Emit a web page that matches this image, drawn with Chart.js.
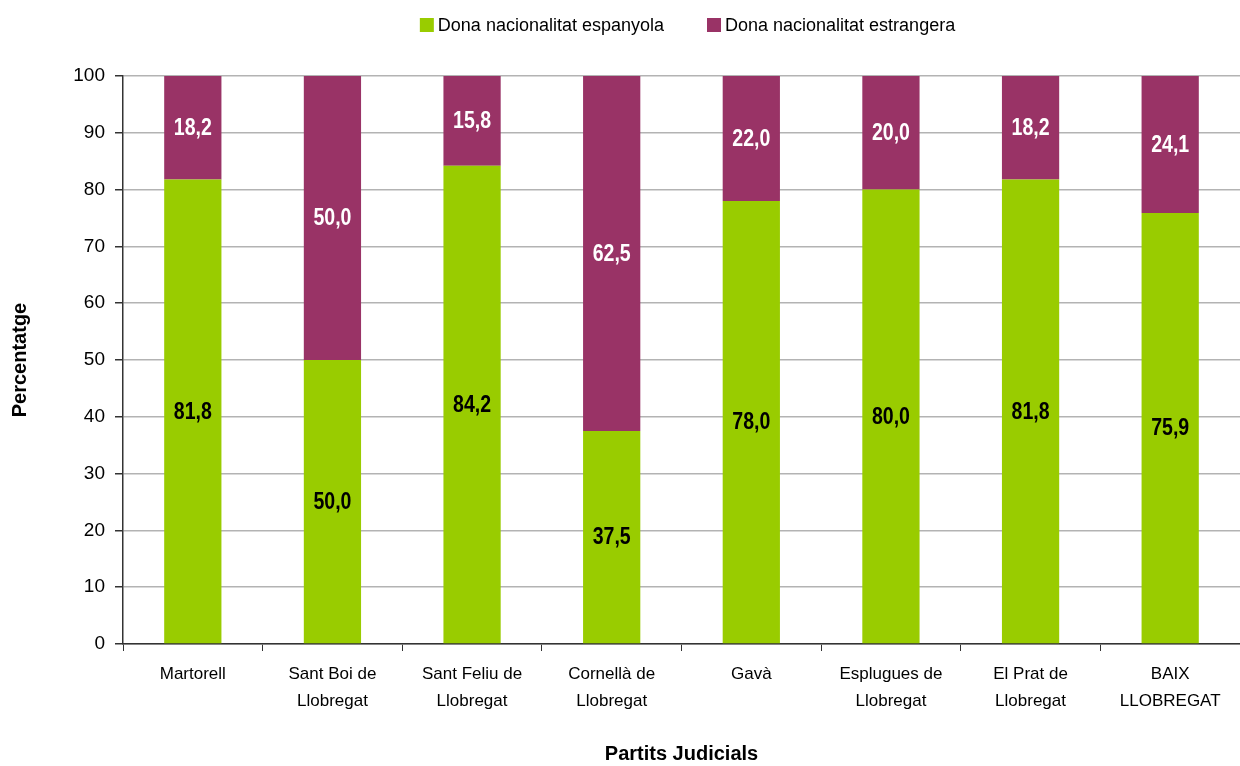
<!DOCTYPE html>
<html>
<head>
<meta charset="utf-8">
<script src="https://cdn.jsdelivr.net/npm/chart.js@4.4.0/dist/chart.umd.min.js"></script>
<style>
  body { margin: 0; background: #fff; }
  #wrap { width: 1240px; height: 766px; }
</style>
</head>
<body>
<div id="wrap"><canvas id="chart" width="1240" height="766"></canvas></div>
<script>
// Data
const categories = [
    'Martorell',
    ['Sant Boi de', 'Llobregat'],
    ['Sant Feliu de', 'Llobregat'],
    ['Cornellà de', 'Llobregat'],
    'Gavà',
    ['Esplugues de', 'Llobregat'],
    ['El Prat de', 'Llobregat'],
    ['BAIX', 'LLOBREGAT']
];
const espanyola = [81.8, 50.0, 84.2, 37.5, 78.0, 80.0, 81.8, 75.9];
const estrangera = [18.2, 50.0, 15.8, 62.5, 22.0, 20.0, 18.2, 24.1];
const seriesNames = ['Dona nacionalitat espanyola', 'Dona nacionalitat estrangera'];
const yTicks = [0, 10, 20, 30, 40, 50, 60, 70, 80, 90, 100];

const FONT = "'Liberation Sans', Arial, sans-serif";

// value labels centred in each segment (narrow bold look of the original)
const segmentLabels = {
    id: 'segmentLabels',
    afterDatasetsDraw(chart) {
        const ctx = chart.ctx;
        ctx.save();
        ctx.font = 'bold 23px ' + FONT;
        ctx.textAlign = 'center';
        ctx.textBaseline = 'middle';
        chart.data.datasets.forEach((ds, i) => {
            const meta = chart.getDatasetMeta(i);
            ctx.fillStyle = i === 0 ? '#000000' : '#ffffff';
            meta.data.forEach((bar, j) => {
                const txt = ds.data[j].toFixed(1).replace('.', ',');
                const mid = (bar.y + bar.base) / 2;
                ctx.save();
                ctx.translate(bar.x, mid + 1);
                ctx.scale(0.85, 1);
                ctx.fillText(txt, 0, 0);
                ctx.restore();
            });
        });
        ctx.restore();
    }
};

// legend drawn above the plot area, centred on it
const topLegend = {
    id: 'topLegend',
    afterDraw(chart) {
        const ctx = chart.ctx;
        const area = chart.chartArea;
        const box = 14, gap = 4, itemGap = 43, y = 25;
        ctx.save();
        ctx.font = '18px ' + FONT;
        ctx.textBaseline = 'middle';
        const items = chart.data.datasets.map(ds => ({
            text: ds.label, color: ds.backgroundColor, w: ctx.measureText(ds.label).width
        }));
        const total = items.reduce((s, it) => s + box + gap + it.w, 0) + itemGap * (items.length - 1);
        let x = (area.left + area.right) / 2 - total / 2 + 6;
        items.forEach(it => {
            ctx.fillStyle = it.color;
            ctx.fillRect(x, y - box / 2, box, box);
            ctx.fillStyle = '#000';
            ctx.fillText(it.text, x + box + gap, y + 1);
            x += box + gap + it.w + itemGap;
        });
        ctx.restore();
    }
};

new Chart(document.getElementById('chart'), {
    type: 'bar',
    data: {
        labels: categories,
        datasets: [
            { label: seriesNames[0], data: espanyola, backgroundColor: '#99CC00' },
            { label: seriesNames[1], data: estrangera, backgroundColor: '#993366' }
        ]
    },
    options: {
        responsive: false,
        animation: false,
        devicePixelRatio: 1,
        layout: { padding: { top: 76, right: 0, bottom: 0, left: 0 } },
        datasets: { bar: { barPercentage: 0.41, categoryPercentage: 1.0 } },
        plugins: {
            legend: { display: false },
            tooltip: { enabled: false }
        },
        scales: {
            x: {
                stacked: true,
                afterFit: s => { s.height = 122; },
                grid: { display: true, drawOnChartArea: false, drawTicks: true, tickLength: 7, offset: true, color: '#333' },
                border: { color: '#333', width: 1.5 },
                ticks: { color: '#000', font: { family: FONT, size: 17, lineHeight: 1.6 }, padding: 10, maxRotation: 0, autoSkip: false },
                title: { display: true, text: 'Partits Judicials', color: '#000', font: { family: FONT, size: 20, weight: 'bold' }, padding: { top: 0, bottom: 0 } }
            },
            y: {
                stacked: true,
                min: 0,
                max: 100,
                afterFit: s => { s.width = 123; },
                afterBuildTicks: axis => { axis.ticks = yTicks.map(v => ({ value: v })); },
                grid: { color: '#b3b3b3', lineWidth: 1.5, tickLength: 8, tickColor: '#333' },
                border: { color: '#333', width: 1.5 },
                ticks: { color: '#000', font: { family: FONT, size: 19 }, padding: 10 },
                title: { display: true, text: 'Percentatge', color: '#000', font: { family: FONT, size: 20, weight: 'bold' }, padding: { top: 8, bottom: 0 } }
            }
        }
    },
    plugins: [segmentLabels, topLegend]
});
</script>
</body>
</html>
